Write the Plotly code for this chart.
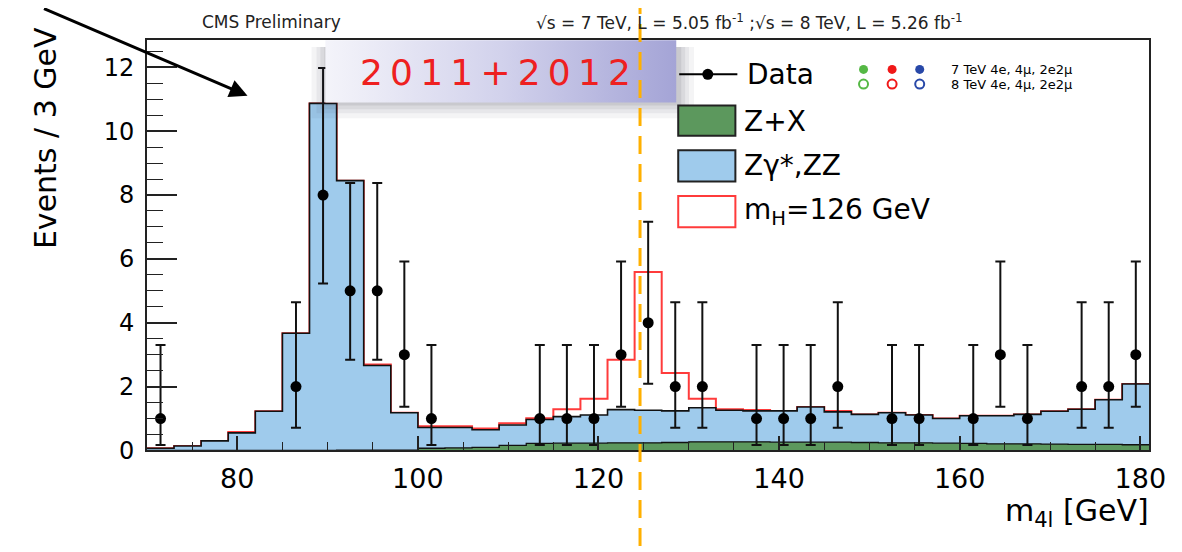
import plotly.graph_objects as go

W, H = 1182, 552

# ---------------- data ----------------
bin_edges = [70, 73, 76, 79, 82, 85, 88, 91, 94, 97, 100, 103, 106, 109, 112, 115,
             118, 121, 124, 127, 130, 133, 136, 139, 142, 145, 148, 151, 154, 157,
             160, 163, 166, 169, 172, 175, 178, 181]
zx = [0, 0, 0, 0, 0, 0, 0, 0.01, 0.01, 0.01, 0.07, 0.08, 0.10, 0.16, 0.22, 0.23,
      0.23, 0.24, 0.24, 0.25, 0.27, 0.27, 0.27, 0.26, 0.26, 0.26, 0.25, 0.24, 0.24,
      0.23, 0.22, 0.21, 0.21, 0.20, 0.19, 0.19, 0.18]
zz = [0.07, 0.14, 0.30, 0.55, 1.23, 3.67, 10.87, 8.44, 2.65, 1.17, 0.65, 0.64, 0.55,
      0.64, 0.75, 0.83, 0.88, 1.04, 1.02, 0.99, 1.07, 0.99, 0.97, 0.98, 1.10, 0.95,
      0.88, 0.94, 0.87, 0.77, 0.87, 0.88, 0.92, 1.03, 1.10, 1.40, 1.90]
sig = [0, 0, 0, 0.03, 0, 0, 0, 0, 0.03, 0, 0.04, 0.04, 0.04, 0.05, 0.04, 0.23, 0.51,
       1.56, 4.33, 1.19, 0.28, 0.03, 0.03, 0, 0, 0.03, 0, 0, 0, 0, 0, 0, 0, 0, 0, 0, 0]

data_x = [71.5, 86.5, 89.5, 92.5, 95.5, 98.5, 101.5, 113.5, 116.5, 119.5, 122.5, 125.5,
          128.5, 131.5, 137.5, 140.5, 143.5, 146.5, 152.5, 155.5, 161.5, 164.5, 167.5,
          173.5, 176.5, 179.5]
data_n = [1, 2, 8, 5, 5, 3, 1, 1, 1, 1, 3, 4, 2, 2, 1, 1, 1, 2, 1, 1, 1, 3, 1, 2, 2, 3]
err_hi = [2.30, 2.64, 3.98, 3.38, 3.38, 2.92, 2.30, 2.30, 2.30, 2.30, 2.92, 3.16, 2.64,
          2.64, 2.30, 2.30, 2.30, 2.64, 2.30, 2.30, 2.30, 2.92, 2.30, 2.64, 2.64, 2.92]
err_lo = [0.83, 1.29, 2.77, 2.16, 2.16, 1.63, 0.83, 0.83, 0.83, 0.83, 1.63, 1.91, 1.29,
          1.29, 0.83, 0.83, 0.83, 1.29, 0.83, 0.83, 0.83, 1.63, 0.83, 1.29, 1.29, 1.63]

x_ticks = [80, 100, 120, 140, 160, 180]
y_ticks = [0, 2, 4, 6, 8, 10, 12]
mass_line = 124.6

# colours
C_BLUE = "#9fcbec"
C_GREEN = "#5c985d"
C_RED = "#ff3b3b"
C_ORANGE = "#ffb000"
FONT = "DejaVu Sans"

# ---------------- layout geometry (pixels) ----------------
FL, FR, FT, FB = 141, 1158, 33, 454   # plot frame
XR = [70, 181]
YR = [0, 12.85]


def px(x):
    return x / W


def py(y):
    return 1 - y / H


def step(vals):
    return list(vals) + [vals[-1]]


blue_top = [a + b for a, b in zip(zx, zz)]
red_top = [a + b for a, b in zip(blue_top, sig)]

fig = go.Figure()

# signal (red outline)
fig.add_trace(go.Scatter(x=bin_edges, y=step(red_top), mode="lines", line_shape="hv",
                         line=dict(color=C_RED, width=2), hoverinfo="skip",
                         showlegend=False))
# ZZ (blue)
fig.add_trace(go.Scatter(x=bin_edges, y=step(blue_top), mode="lines", line_shape="hv",
                         fill="tozeroy", fillcolor=C_BLUE,
                         line=dict(color="#111111", width=1.6), showlegend=False))
# Z+X (green)
fig.add_trace(go.Scatter(x=bin_edges, y=step(zx), mode="lines", line_shape="hv",
                         fill="tozeroy", fillcolor=C_GREEN,
                         line=dict(color="#111111", width=1.3), showlegend=False))
# data
fig.add_trace(go.Scatter(x=data_x, y=data_n, mode="markers",
                         marker=dict(color="black", size=11),
                         error_y=dict(type="data", symmetric=False, array=err_hi,
                                      arrayminus=err_lo, color="#111111",
                                      thickness=2, width=5),
                         showlegend=False))

# ---------------- overlay (full-figure pixel axes) decorations ----------------
def rect_xy(x0, y0, x1, y1):
    return [x0, x1, x1, x0, x0], [y0, y0, y1, y1, y0]


# shadow of the "2011+2012" box
for d, a in [(16, 0.05), (11, 0.06), (7, 0.07), (3, 0.09)]:
    xs, ys = rect_xy(322 - d + 2, 40, 678 + d + 2, 97 + d)
    fig.add_trace(go.Scatter(x=xs, y=ys, xaxis="x2", yaxis="y2", mode="lines",
                             fill="toself", fillcolor=f"rgba(40,40,60,{a})",
                             line=dict(width=0), hoverinfo="skip", showlegend=False))
# gradient box
xs, ys = rect_xy(322, 33, 678, 97)
fig.add_trace(go.Scatter(x=xs, y=ys, xaxis="x2", yaxis="y2", mode="lines",
                         fill="toself",
                         fillgradient=dict(type="horizontal",
                                           colorscale=[[0, "#f4f4fa"], [0.5, "#d2d2ec"],
                                                       [1, "#a4a4d6"]]),
                         line=dict(width=0), hoverinfo="skip", showlegend=False))

# legend markers: Data line + dot
fig.add_trace(go.Scatter(x=[681, 740], y=[68, 68], xaxis="x2", yaxis="y2", mode="lines",
                         line=dict(color="black", width=2), hoverinfo="skip",
                         showlegend=False))
fig.add_trace(go.Scatter(x=[710], y=[68], xaxis="x2", yaxis="y2", mode="markers",
                         marker=dict(color="black", size=11), hoverinfo="skip",
                         showlegend=False))
# coloured channel dots
ch_cols = ["#55b845", "#f01818", "#2848a8"]
ch_x = [868, 897, 925]
fig.add_trace(go.Scatter(x=ch_x, y=[63, 63, 63], xaxis="x2", yaxis="y2", mode="markers",
                         marker=dict(color=ch_cols, size=9), hoverinfo="skip",
                         showlegend=False))
fig.add_trace(go.Scatter(x=ch_x, y=[78, 78, 78], xaxis="x2", yaxis="y2", mode="markers",
                         marker=dict(color="rgba(0,0,0,0)", size=9,
                                     line=dict(color=ch_cols, width=2)),
                         hoverinfo="skip", showlegend=False))

shapes = []
# legend boxes
shapes.append(dict(type="rect", xref="paper", yref="paper", x0=px(680), x1=px(738),
                   y0=py(100), y1=py(131), fillcolor=C_GREEN,
                   line=dict(color="#222222", width=2), layer="above"))
shapes.append(dict(type="rect", xref="paper", yref="paper", x0=px(680), x1=px(738),
                   y0=py(146), y1=py(178), fillcolor=C_BLUE,
                   line=dict(color="#222222", width=2), layer="above"))
shapes.append(dict(type="rect", xref="paper", yref="paper", x0=px(680), x1=px(738),
                   y0=py(193), y1=py(225), fillcolor="white",
                   line=dict(color=C_RED, width=2), layer="above"))
# orange dashed line
x_line = px(FL + (mass_line - XR[0]) / (XR[1] - XR[0]) * (FR - FL))
shapes.append(dict(type="line", xref="paper", yref="paper", x0=x_line, x1=x_line,
                   y0=0, y1=1, line=dict(color=C_ORANGE, width=3, dash="18px,10px"),
                   layer="above"))

ann = []


def text(x, y, s, size, color="black", xanchor="center", angle=0, family=FONT):
    ann.append(dict(x=px(x), y=py(y), xref="paper", yref="paper", text=s,
                    showarrow=False, xanchor=xanchor, yanchor="middle",
                    textangle=angle, font=dict(family=family, size=size, color=color)))


TS = "\u2009"
text(267, 14, "CMS Preliminary", 17, color="#222222")
text(752, 14, "√s = 7 TeV, L = 5.05 fb<sup>-1</sup> ;√s = 8 TeV, L = 5.26 fb<sup>-1</sup>",
     17, color="#222222")
text(38, 133, "Events / 3 GeV", 30, angle=-90)
text(FR + 2, 518, "m<sub>4l</sub> [GeV]", 30, xanchor="right")
text(495, 66, TS.join("2011+2012"), 36, color="#ee2020")
text(748, 68, "Data", 28, xanchor="left")
text(745, 116, "Z+X", 28, xanchor="left")
text(745, 162, "Zγ*,ZZ", 28, xanchor="left")
text(745, 209, "m<sub>H</sub>=126 GeV", 28, xanchor="left")
text(955, 63, "7 TeV 4e, 4μ, 2e2μ", 13, xanchor="left")
text(955, 78, "8 TeV 4e, 4μ, 2e2μ", 13, xanchor="left")

# arrow
ann.append(dict(x=px(243), y=py(90), xref="paper", yref="paper", text="",
                showarrow=True, ax=-205, ay=-93, arrowhead=2, arrowsize=1.2,
                arrowwidth=3, arrowcolor="black"))

fig.update_layout(
    width=W, height=H,
    margin=dict(l=0, r=0, t=0, b=0),
    paper_bgcolor="white", plot_bgcolor="rgba(0,0,0,0)",
    showlegend=False,
    shapes=shapes, annotations=ann,
    xaxis=dict(domain=[FL / W, FR / W], range=XR, tickvals=x_ticks,
               ticks="inside", ticklen=14, tickwidth=1.5, tickcolor="#222222",
               minor=dict(dtick=5, tick0=70, ticks="inside", ticklen=8, tickwidth=1.3,
                          tickcolor="#222222"),
               showline=True, linecolor="#222222", linewidth=2, mirror=True,
               showgrid=False, zeroline=False,
               tickfont=dict(family=FONT, size=27, color="black"),
               ticklabelstandoff=3, anchor="y"),
    yaxis=dict(domain=[1 - FB / H, 1 - FT / H], range=YR, tickvals=y_ticks,
               ticks="inside", ticklen=30, tickwidth=1.5, tickcolor="#222222",
               minor=dict(dtick=0.5, ticks="inside", ticklen=16, tickwidth=1.3,
                          tickcolor="#222222"),
               showline=True, linecolor="#222222", linewidth=2, mirror=True,
               showgrid=False, zeroline=False,
               tickfont=dict(family=FONT, size=24, color="black"),
               ticklabelstandoff=6, anchor="x"),
    xaxis2=dict(domain=[0, 1], range=[0, W], visible=False, anchor="y2",
                fixedrange=True),
    yaxis2=dict(domain=[0, 1], range=[H, 0], visible=False, anchor="x2",
                fixedrange=True),
)

fig.write_html("out.html")
